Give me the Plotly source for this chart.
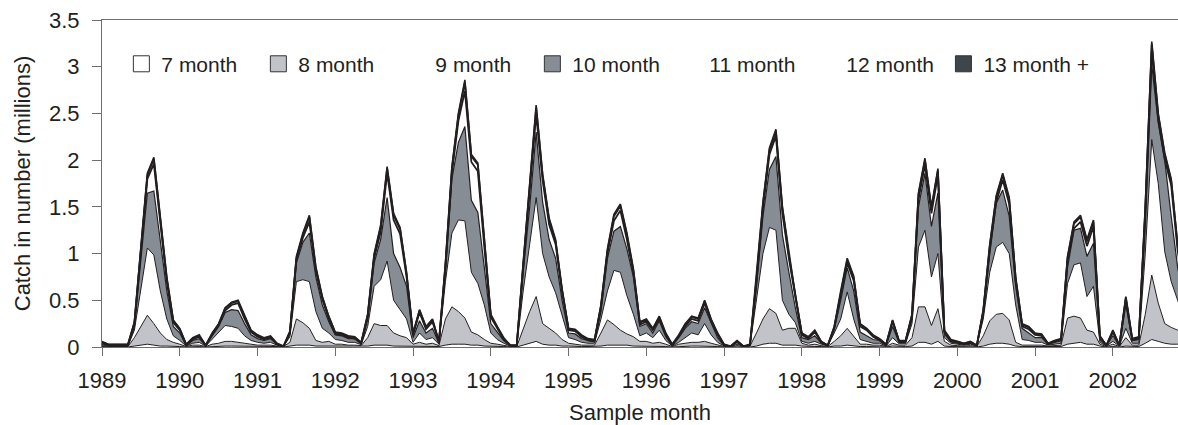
import plotly.graph_objects as go

# ---------------- data (millions) ----------------
years = list(range(1989, 2003))
sample_month = [f"{y}-{m:02d}" for y in years for m in range(1, 13)]
tick_labels = [str(y) for y in years]

age_7 = [
    .005, 0, 0, 0, 0, .01, .02, .03, .02, .01, .01, .01,
    .005, 0, .005, .005, 0, .005, .01, .01, .01, .01, .01, .005,
    .005, .005, .005, .005, 0, .01, .02, .02, .02, .01, .01, .01,
    .005, .005, .005, .005, .005, .01, .02, .02, .02, .01, .01, .01,
    .005, .01, .005, .01, .005, .02, .03, .03, .03, .02, .02, .01,
    .01, .005, .005, 0, 0, .02, .04, .06, .03, .02, .02, .01,
    .01, .005, .005, .005, .005, .01, .02, .02, .02, .02, .01, .01,
    .01, .005, .01, .005, 0, .005, .01, .01, .01, .01, .01, .005,
    0, 0, .005, 0, 0, .01, .03, .04, .04, .02, .02, .02,
    .01, .005, .005, .005, 0, .01, .01, .02, .01, .005, .005, .005,
    .005, 0, .01, .005, .005, .01, .05, .05, .03, .06, .01, .005,
    .005, .005, .005, 0, .01, .03, .04, .04, .03, .01, .005, .005,
    .005, .005, .005, .005, .005, .03, .04, .05, .03, .03, .01, 0,
    .005, 0, .01, .005, .005, .04, .08, .06, .04, .03, .03, .02,
]
age_8 = [
    .01, .005, .005, .005, .005, .09, .20, .31, .23, .14, .07, .04,
    .025, .005, .015, .015, .005, .025, .03, .05, .05, .04, .03, .025,
    .015, .015, .015, .005, .005, .04, .28, .24, .18, .06, .04, .05,
    .025, .025, .015, .015, .01, .09, .23, .21, .21, .14, .11, .09,
    .025, .04, .025, .03, .01, .28, .40, .35, .28, .14, .11, .07,
    .03, .025, .015, .005, .005, .18, .34, .48, .22, .18, .13, .07,
    .03, .025, .015, .015, .015, .14, .27, .22, .16, .12, .10, .05,
    .05, .035, .04, .025, .005, .025, .03, .04, .04, .05, .03, .015,
    .005, 0, .01, .005, .01, .14, .27, .37, .32, .16, .18, .18,
    .03, .015, .025, .01, .005, .05, .11, .18, .11, .025, .025, .015,
    .015, .005, .03, .015, .015, .09, .38, .38, .20, .35, .05, .015,
    .01, .005, .01, .005, .11, .25, .31, .32, .26, .04, .015, .015,
    .015, .015, .005, .01, .015, .28, .29, .26, .15, .13, .02, .005,
    .025, .005, .09, .015, .015, .31, .69, .41, .21, .18, .15, .12,
]
age_9 = [
    .01, .005, .005, .005, .005, .08, .38, .72, .735, .45, .22, .07,
    .04, .005, .02, .03, .005, .05, .11, .17, .16, .15, .08, .04,
    .03, .02, .03, .01, 0, .06, .40, .46, .50, .31, .15, .09,
    .05, .04, .03, .03, .01, .12, .40, .49, .69, .35, .28, .20,
    .02, .10, .05, .06, .015, .40, .79, .98, 1.04, .64, .55, .37,
    .11, .05, .02, .005, .005, .40, .72, 1.06, .75, .55, .43, .25,
    .06, .05, .03, .02, .02, .15, .31, .58, .62, .41, .24, .06,
    .09, .06, .13, .04, .005, .02, .06, .10, .08, .19, .09, .03,
    .005, 0, .015, 0, .005, .35, .70, .87, .89, .32, .15, .06,
    .02, .02, .03, .015, .005, .09, .18, .39, .18, .05, .03, .02,
    .02, .005, .06, .015, .015, .15, .64, .82, .52, .59, .04, .02,
    .015, .01, .015, .005, .18, .52, .72, .76, .71, .40, .06, .05,
    .03, .03, .01, .015, .02, .37, .55, .59, .36, .49, .02, .005,
    .03, .005, .10, .02, .02, .65, 1.45, 1.28, .77, .49, .32, .16,
]
age_10 = [
    .01, .005, .005, .005, .005, .04, .30, .585, .685, .55, .30, .10,
    .08, .005, .03, .04, .005, .04, .07, .14, .18, .19, .13, .06,
    .04, .03, .04, .01, 0, .03, .20, .40, .52, .37, .25, .12,
    .05, .05, .04, .04, .01, .08, .25, .43, .68, .50, .45, .35,
    .05, .13, .07, .10, .01, .10, .58, .83, 1.01, .77, .76, .40,
    .10, .08, .03, .005, .005, .20, .40, .70, .55, .40, .37, .17,
    .05, .06, .04, .03, .02, .08, .35, .42, .49, .50, .40, .10,
    .10, .05, .10, .04, .005, .05, .10, .12, .12, .17, .12, .05,
    .005, .005, .02, 0, .005, .15, .40, .62, .79, .70, .45, .16,
    .04, .04, .06, .01, .005, .04, .20, .26, .30, .08, .06, .04,
    .03, .005, .12, .015, .015, .05, .43, .61, .54, .65, .04, .02,
    .01, .01, .01, .005, .05, .20, .47, .56, .40, .20, .12, .08,
    .05, .05, .01, .02, .03, .17, .37, .37, .43, .46, .03, .005,
    .06, .005, .25, .03, .04, .30, .80, .65, .98, .70, .35, .18,
]
age_11 = [
    .01, .005, .005, .005, .005, .02, .10, .155, .29, .18, .10, .04,
    .03, .005, .01, .02, 0, .01, .01, .02, .05, .08, .05, .03,
    .02, .01, .01, 0, 0, .01, .03, .05, .12, .06, .06, .03,
    .01, .01, .01, 0, .005, .02, .05, .08, .26, .36, .36, .10,
    .03, .09, .04, .07, .01, .05, .06, .23, .38, .41, .44, .22,
    .07, .04, .01, 0, 0, .05, .18, .19, .23, .16, .15, .09,
    .03, .03, .02, 0, 0, .04, .05, .11, .17, .10, .04, .02,
    .02, .03, .02, .02, .005, .01, .02, .03, .03, .05, .02, .03,
    .005, 0, .01, 0, 0, .05, .08, .16, .22, .23, .15, .10,
    .03, .01, .04, .01, 0, .01, .07, .05, .11, .06, .06, .03,
    0, .005, .05, .01, .01, .02, .08, .09, .14, .19, .02, 0,
    .01, 0, .01, 0, .02, .05, .01, .11, .13, .05, .02, .04,
    .03, .02, 0, .01, 0, .07, .02, .07, .11, .18, .02, 0,
    .04, 0, .06, 0, .01, .13, .15, .03, .01, .33, .18, .08,
]
age_12 = [
    .005, .005, .005, .005, .005, .02, .03, .04, .05, .05, .03, .02,
    .01, .005, .01, .01, 0, .01, .01, .02, .02, .02, .02, .01,
    .01, .01, .01, .005, 0, .01, .02, .03, .05, .03, .02, .02,
    .01, .01, .01, .01, .005, .02, .03, .05, .05, .05, .05, .03,
    .01, .02, .02, .02, .005, .03, .05, .06, .09, .06, .07, .06,
    .02, .01, .01, 0, 0, .03, .05, .07, .05, .05, .03, .02,
    .01, .01, .01, .01, .01, .02, .03, .05, .05, .05, .03, .02,
    .02, .01, .02, .01, .005, .01, .02, .02, .02, .02, .02, .01,
    .005, 0, .005, 0, .005, .03, .05, .05, .05, .05, .03, .02,
    .01, .01, .01, .005, 0, .01, .02, .03, .03, .02, .01, .01,
    .01, .005, .01, .005, .005, .02, .05, .05, .05, .05, .01, .01,
    .005, .005, .005, 0, .02, .03, .05, .05, .05, .03, .02, .02,
    .01, .01, .005, .005, .01, .03, .05, .05, .05, .05, .01, 0,
    .01, 0, .02, .01, .01, .05, .07, .05, .05, .05, .05, .03,
]
age_13 = [
    .01, .005, .005, .005, .005, .01, .02, .02, .02, .02, .02, .01,
    .01, .005, .01, .01, .005, .01, .01, .01, .01, .01, .01, .01,
    .01, .01, .01, .005, .005, .01, .02, .02, .02, .02, .01, .01,
    .01, .01, .01, .01, .005, .01, .02, .02, .02, .02, .02, .02,
    .01, .01, .01, .01, .005, .02, .02, .02, .03, .02, .02, .02,
    .01, .01, .01, .005, .005, .02, .02, .03, .02, .02, .02, .01,
    .01, .01, .01, .01, .01, .01, .02, .02, .02, .02, .02, .01,
    .01, .01, .01, .01, .005, .01, .01, .01, .01, .01, .01, .01,
    .005, .005, .005, .005, .005, .02, .02, .02, .02, .02, .02, .01,
    .01, .01, .01, .005, .005, .01, .01, .02, .02, .01, .01, .01,
    .01, .005, .01, .005, .005, .01, .02, .02, .02, .02, .01, .01,
    .005, .005, .005, .005, .01, .02, .02, .02, .02, .02, .01, .01,
    .01, .01, .005, .005, .01, .02, .02, .02, .02, .02, .01, .005,
    .01, .005, .01, .01, .01, .02, .03, .02, .02, .02, .02, .01,
]

series_names = ["7 month", "8 month", "9 month", "10 month", "11 month", "12 month", "13 month +"]
series_values = [age_7, age_8, age_9, age_10, age_11, age_12, age_13]

# ---------------- styling ----------------
FONT = "Arial, Liberation Sans, sans-serif"
INK = "#231f20"
fills = ["#ffffff", "#c1c3c8", "#ffffff", "#878d95", "#ffffff", "#ffffff", "#3f4548"]
line_w = [1.0, 1.0, 1.0, 1.2, 1.8, 1.8, 1.6]
legend_box = [True, True, False, True, False, False, True]
legend_ref = ["legend"] * 6 + ["legend2"]

fig = go.Figure()
for name, vals, fc, lw in zip(series_names, series_values, fills, line_w):
    fig.add_trace(go.Scatter(
        x=sample_month, y=vals, name=name, mode="lines",
        stackgroup="catch", fillcolor=fc,
        line=dict(color=INK, width=lw, shape="linear"),
        showlegend=False, hoverinfo="x+y+name",
    ))

# legend-only entries (square keys; 9, 11 and 12 month have no visible key)
for i, (name, fc, box, lg) in enumerate(zip(series_names, fills, legend_box, legend_ref)):
    fig.add_trace(go.Scatter(
        x=[None], y=[None], name=name, mode="markers",
        marker=dict(symbol="square", size=16,
                    color=fc if box else "rgba(0,0,0,0)",
                    line=dict(color="#333333" if box else "rgba(0,0,0,0)", width=1 if box else 0)),
        showlegend=True, legendrank=i + 1, legend=lg,
    ))

legend_common = dict(
    orientation="h", y=0.865, xanchor="left", yanchor="middle",
    font=dict(family=FONT, size=21, color=INK),
    bgcolor="rgba(0,0,0,0)", borderwidth=0, itemsizing="trace",
    traceorder="normal",
)

fig.update_layout(
    width=1178, height=425,
    margin=dict(l=102, r=0, t=20, b=78, autoexpand=False),
    paper_bgcolor="white", plot_bgcolor="white",
    font=dict(family=FONT, size=22, color=INK),
    showlegend=True,
    legend=dict(x=0.018, entrywidth=92, entrywidthmode="pixels", **legend_common),
    legend2=dict(x=0.782, **legend_common),
    xaxis=dict(
        type="category", range=[0, 166.05],
        tickmode="array", tickvals=[f"{y}-01" for y in years], ticktext=tick_labels,
        ticks="outside", ticklen=8, tickcolor="#6d6e71", tickwidth=1,
        showline=True, linecolor="#6d6e71", linewidth=1, mirror=True,
        showgrid=False, zeroline=False, automargin=False,
        tickfont=dict(family=FONT, size=22, color=INK), ticklabelstandoff=6,
        title=dict(text="Sample month", font=dict(family=FONT, size=22, color=INK), standoff=12),
    ),
    yaxis=dict(
        range=[0, 3.5], tickmode="array",
        tickvals=[0, 0.5, 1, 1.5, 2, 2.5, 3, 3.5],
        ticktext=["0", "0.5", "1", "1.5", "2", "2.5", "3", "3.5"],
        ticks="outside", ticklen=9, tickcolor="#6d6e71", tickwidth=1,
        showline=True, linecolor="#6d6e71", linewidth=1,
        showgrid=False, zeroline=False, automargin=False,
        tickfont=dict(family=FONT, size=22, color=INK), ticklabelstandoff=8,
        title=dict(text="Catch in number (millions)", font=dict(family=FONT, size=22, color=INK), standoff=12),
    ),
)

fig.write_html("out.html")
